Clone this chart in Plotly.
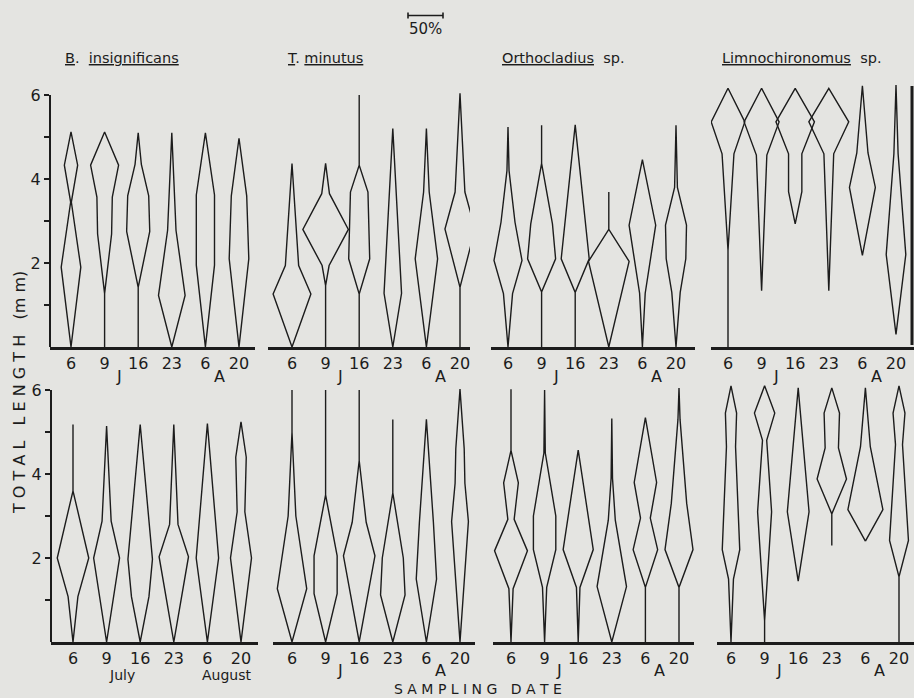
import plotly.graph_objects as go

W, H = 914, 698
DATES = ["6", "9", "16", "23", "6", "20"]
SPACING = 48          # percent units between sampling dates
PX_PER_PCT = 0.7      # 50 % = 35 px

# ---------------- kite data: lengths (mm) and widths (% of sample) ----------------
# top row
bi1_len = [[0, 1.9, 3.45, 4.33, 5.12], [0, 1.27, 2.69, 3.57, 4.33, 5.12],
           [0, 1.42, 2.75, 3.6, 4.35, 5.1], [0, 1.23, 2.78, 5.1],
           [0, 1.95, 3.62, 5.1], [0, 2.1, 3.6, 4.97]]
bi1_pct = [[0, 28, 1, 19, 0], [0, 0, 20, 22, 40, 0],
           [0, 0, 33, 30, 9, 0], [0, 38, 12, 0],
           [0, 26, 26, 0], [0, 28, 22, 0]]

tm1_len = [[0, 1.26, 1.94, 4.37], [0, 1.46, 1.94, 2.8, 3.65, 4.37],
           [0, 1.26, 2.1, 3.69, 4.33, 6.0], [0, 1.28, 5.2],
           [0, 2.1, 3.69, 5.2], [0, 1.42, 2.81, 3.69, 6.04]]
tm1_pct = [[0, 54, 19, 0], [0, 0, 10, 65, 11, 0],
           [0, 0, 30, 25, 0, 0], [0, 25, 0],
           [0, 32, 8, 0], [0, 0, 43, 14, 0]]

or1_len = [[0, 1.27, 2.06, 2.97, 4.2, 5.24], [0, 1.31, 2.1, 2.93, 4.37, 5.28],
           [0, 1.3, 2.1, 5.29], [0, 2.04, 2.8, 3.69],
           [0, 1.28, 2.9, 4.46], [0, 1.3, 2.1, 2.9, 3.8, 5.28]]
or1_pct = [[0, 13, 40, 20, 3, 0], [0, 0, 40, 31, 0, 0],
           [0, 0, 40, 0], [0, 58, 0, 0],
           [0, 8, 38, 0], [0, 12, 28, 30, 4, 0]]

li1_len = [[0, 2.3, 4.6, 5.36, 6.16], [1.34, 4.57, 5.36, 6.16],
           [2.93, 3.7, 4.6, 5.36, 6.16], [1.34, 4.6, 5.36, 6.16],
           [2.18, 3.8, 4.62, 6.22], [0.3, 2.2, 4.6, 6.24]]
li1_pct = [[0, 0, 17, 48, 0], [0, 15, 50, 0],
           [0, 19, 19, 55, 0], [0, 14, 57, 0],
           [0, 37, 16, 0], [0, 28, 6, 0]]

# bottom row
bi2_len = [[0, 1.08, 2.0, 3.6, 5.18], [0, 2.0, 2.88, 5.14],
           [0, 1.08, 1.97, 5.18], [0, 2.03, 2.8, 5.18],
           [0, 2.0, 5.2], [0, 2.0, 3.1, 4.4, 5.24]]
bi2_pct = [[0, 14, 45, 0, 0], [0, 37, 13, 0],
           [0, 25, 35, 0], [0, 42, 12, 0],
           [0, 32, 0], [0, 30, 11, 15, 0]]

tm2_len = [[0, 1.27, 3.0, 5.0, 6.0], [0, 1.15, 2.05, 3.5, 6.0],
           [0, 2.05, 2.85, 4.32, 6.0], [0, 1.12, 2.0, 3.55, 5.3],
           [0, 1.5, 2.85, 5.3], [0, 2.87, 3.78, 4.6, 6.02]]
tm2_pct = [[0, 42, 11, 0, 0], [0, 33, 33, 0, 0],
           [0, 45, 20, 0, 0], [0, 35, 30, 0, 0],
           [0, 29, 20, 0], [0, 24, 14, 12, 0]]

or2_len = [[0, 1.27, 2.17, 2.92, 3.79, 4.56, 6.02], [0, 1.3, 2.2, 3.0, 3.8, 4.5, 6.0],
           [0, 1.3, 2.2, 4.57], [0, 1.32, 2.9, 3.9, 5.32],
           [0, 1.3, 2.2, 2.95, 3.8, 5.34], [0, 1.3, 2.2, 3.3, 5.3, 6.05]]
or2_pct = [[0, 6, 47, 9, 21, 0, 0], [0, 6, 32, 32, 16, 2, 0],
           [0, 5, 43, 0], [0, 42, 10, 2, 0],
           [0, 0, 35, 14, 32, 0], [0, 0, 40, 22, 3, 0]]

li2_len = [[0, 1.5, 2.2, 4.65, 5.45, 6.1], [0, 0.5, 3.1, 4.8, 5.45, 6.1],
           [1.45, 3.1, 6.05], [2.3, 3.05, 3.88, 4.62, 5.45, 6.05],
           [2.4, 3.15, 4.65, 6.05], [0, 1.55, 2.42, 4.7, 5.45, 6.1]]
li2_pct = [[0, 7, 25, 13, 16, 0], [0, 0, 20, 6, 29, 0],
           [0, 31, 0], [0, 0, 42, 19, 22, 0],
           [0, 50, 14, 0], [0, 0, 27, 10, 17, 0]]

TITLES = ["<u>B</u>.  <u>insignificans</u>", "<u>T</u>. <u>minutus</u>",
          "<u>Orthocladius</u>  sp.", "<u>Limnochironomus</u>  sp."]
MONTHS_SHORT = ["J", "A"]
MONTHS_LONG = ["July", "August"]

# ---------------- layout geometry (pixels) ----------------
# (data_len, data_pct, left px, right px, first-kite px, row)
panels = [
    (bi1_len, bi1_pct, 50, 255, 71, 0),
    (tm1_len, tm1_pct, 268, 470, 292, 0),
    (or1_len, or1_pct, 491, 695, 508, 0),
    (li1_len, li1_pct, 711, 914, 728, 0),
    (bi2_len, bi2_pct, 51, 258, 73, 1),
    (tm2_len, tm2_pct, 273, 475, 292, 1),
    (or2_len, or2_pct, 493, 694, 511, 1),
    (li2_len, li2_pct, 717, 914, 731, 1),
]
ROW_BASE = [347, 642]       # pixel y of 0 mm
PX_PER_MM = 42.0
YMAX = 6.3

INK = "#1c1c1c"
BG = "#e4e4e1"
FONT = "DejaVu Sans"

fig = go.Figure()
layout = {}
shapes = []
annotations = []

for i, (lens, pcts, L, R, c0, row) in enumerate(panels, start=1):
    sfx = "" if i == 1 else str(i)
    xa, ya = "x" + sfx, "y" + sfx
    for k, (ls, ps) in enumerate(zip(lens, pcts)):
        c = k * SPACING
        xs = [c + p / 2 for p in ps] + [c - p / 2 for p in reversed(ps)]
        ys = list(ls) + list(reversed(ls))
        fig.add_trace(go.Scatter(x=xs, y=ys, mode="lines", xaxis=xa, yaxis=ya,
                                 line=dict(color=INK, width=1.4),
                                 hoverinfo="skip", showlegend=False))
    base = ROW_BASE[row]
    top = base - YMAX * PX_PER_MM
    layout["xaxis" + sfx] = dict(
        domain=[L / W, min(R / W, 1)],
        range=[(L - c0) / PX_PER_PCT, (R - c0) / PX_PER_PCT],
        anchor=ya, showline=True, linewidth=3, linecolor=INK,
        ticks="", tickvals=[k * SPACING for k in range(6)], ticktext=DATES,
        tickfont=dict(family=FONT, size=16, color=INK),
        showgrid=False, zeroline=False, fixedrange=True)
    yax = dict(domain=[1 - base / H, 1 - top / H], range=[0, YMAX], anchor=xa,
               showgrid=False, zeroline=False, showline=False, fixedrange=True)
    if L < 100:
        yax.update(tickvals=[1, 2, 3, 4, 5, 6], ticktext=["", "2", "", "4", "", "6"],
                   ticks="outside", ticklen=5, tickwidth=1.5, tickcolor=INK,
                   tickfont=dict(family=FONT, size=16, color=INK))
        shapes.append(dict(type="line", xref=f"{xa} domain", yref=ya, x0=0, x1=0,
                           y0=0, y1=6, line=dict(color=INK, width=2)))
    else:
        yax.update(showticklabels=False, ticks="")
    layout["yaxis" + sfx] = yax

    # month labels
    if i == 5:
        labels, xs_m, my, fs = MONTHS_LONG, [70, 220], 1 - 675 / H, 14
    else:
        labels, xs_m, fs = MONTHS_SHORT, [68, 212], 16
        my = 1 - (376 if row == 0 else 670) / H
    for lab, xm in zip(labels, xs_m):
        annotations.append(dict(text=lab, x=xm, y=my, xref=xa, yref="paper",
                                showarrow=False, xanchor="center", yanchor="middle",
                                font=dict(family=FONT, size=fs, color=INK)))

# panel titles
for t, xpx in zip(TITLES, [63, 285, 500, 720]):
    annotations.append(dict(text=t, x=xpx / W, y=1 - 58 / H, xref="paper", yref="paper",
                            showarrow=False, xanchor="left", yanchor="middle",
                            font=dict(family=FONT, size=14.5, color=INK)))

# 50 % scale bar (in the percent units of panel 2)
c0_2 = panels[1][4]
sx0 = (408 - c0_2) / PX_PER_PCT
sx1 = sx0 + 50
ybar = 1 - 15.5 / H
shapes.append(dict(type="line", xref="x2", yref="paper", x0=sx0, x1=sx1, y0=ybar, y1=ybar,
                   line=dict(color=INK, width=1.6)))
for sx in (sx0, sx1):
    shapes.append(dict(type="line", xref="x2", yref="paper", x0=sx, x1=sx,
                       y0=1 - 12.5 / H, y1=1 - 18.5 / H, line=dict(color=INK, width=1.6)))
annotations.append(dict(text="50%", x=(sx0 + sx1) / 2, y=1 - 29 / H, xref="x2", yref="paper",
                        showarrow=False, xanchor="center", yanchor="middle",
                        font=dict(family=FONT, size=15, color=INK)))

# right border of top-right panel
shapes.append(dict(type="line", xref="paper", yref="paper", x0=912 / W, x1=912 / W,
                   y0=1 - 86 / H, y1=1 - 345 / H, line=dict(color=INK, width=3)))

# axis titles
sp = "\u00a0"
ytitle = sp.join("TOTAL") + sp * 3 + sp.join("LENGTH") + sp * 3 + "(m" + sp + "m)"
annotations.append(dict(text=ytitle, x=19 / W, y=1 - 393 / H, xref="paper", yref="paper",
                        showarrow=False, textangle=-90, xanchor="center", yanchor="middle",
                        font=dict(family=FONT, size=16, color=INK)))
xtitle = sp.join("SAMPLING") + sp * 3 + sp.join("DATE")
annotations.append(dict(text=xtitle, x=478 / W, y=1 - 689 / H, xref="paper", yref="paper",
                        showarrow=False, xanchor="center", yanchor="middle",
                        font=dict(family=FONT, size=14, color=INK)))

fig.update_layout(width=W, height=H, margin=dict(l=0, r=0, t=0, b=0),
                  paper_bgcolor=BG, plot_bgcolor=BG, showlegend=False,
                  shapes=shapes, annotations=annotations, **layout)

fig.write_html("out.html", config={"displayModeBar": False},
               post_script="document.body.style.margin='0px';"
                           "document.body.style.overflow='hidden';")
